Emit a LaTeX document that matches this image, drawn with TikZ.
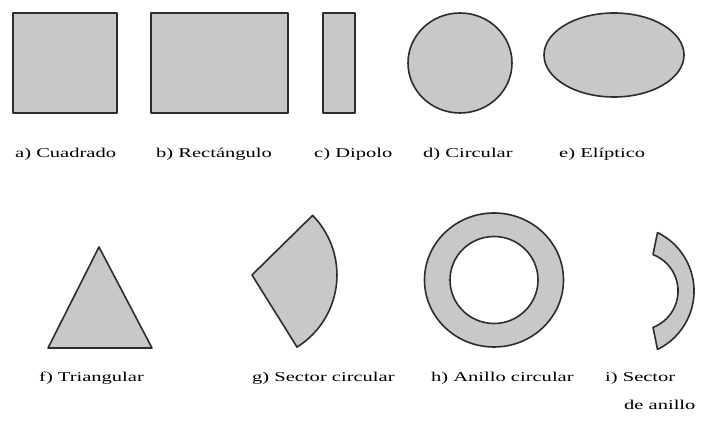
\documentclass[tikz,border=0pt]{standalone}
\usepackage{fontspec}
\newfontfamily\labfont[FakeStretch=1.52]{Liberation Serif}
\definecolor{shapefill}{RGB}{200,200,200}
\definecolor{shapeline}{RGB}{45,45,45}
\tikzset{
  shp/.style={fill=shapefill, draw=shapeline, line width=1.6pt, line join=round},
  lab/.style={anchor=west, inner sep=0pt, font=\labfont\fontsize{13.5}{15}\selectfont, text=black}
}
\begin{document}
\begin{tikzpicture}[x=1pt,y=1pt]
\useasboundingbox[fill=white] (0,0) rectangle (722,430);
% top row
\draw[shp] (13,317) rectangle (117,417);
\draw[shp] (151,317) rectangle (288,417);
\draw[shp] (323,317) rectangle (355,417);
\draw[shp] (460,367) ellipse[x radius=52, y radius=50];
\draw[shp] (614,375) ellipse[x radius=70, y radius=42];
% bottom row
\draw[shp] (99,183) -- (48,82) -- (152,82) -- cycle;
\draw[shp] (252,155) -- (312.6,214.6) arc[start angle=44.5, end angle=-58, radius=85] -- cycle;
\draw[shp, even odd rule] (494,150) ellipse[x radius=69.5, y radius=67] (494,150) ellipse[x radius=44, y radius=43.5];
\draw[shp] (657.5,197.4) arc[start angle=64, end angle=-64, radius=65] -- (653,102.6) arc[start angle=-69, end angle=69, radius=39] -- cycle;
% labels
\node[lab] (la) at (15,276) {a) Cuadrado};
\node[lab] (lb) at (156,276) {b) Rectángulo};
\node[lab] (lc) at (314,276) {c) Dipolo};
\node[lab] (ld) at (423,276) {d) Circular};
\node[lab] (le) at (559,276) {e) Elíptico};
\node[lab] (lf) at (39,52) {f) Triangular};
\node[lab] (lg) at (252,52) {g) Sector circular};
\node[lab] (lh) at (431,52) {h) Anillo circular};
\node[lab] (li) at (605,52) {i) Sector};
\node[lab] (lj) at (624,25) {de anillo};
\end{tikzpicture}
\end{document}
